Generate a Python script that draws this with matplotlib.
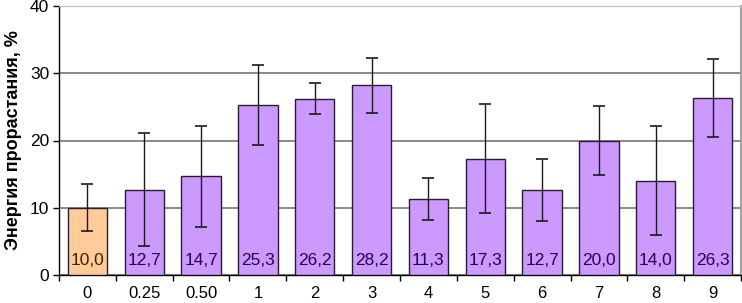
import numpy as np
import matplotlib.pyplot as plt

plt.rcParams['font.family'] = ['Liberation Sans', 'DejaVu Sans']

# data
categories = ['0', '0.25', '0.50', '1', '2', '3', '4', '5', '6', '7', '8', '9']
values = [10.0, 12.7, 14.7, 25.3, 26.2, 28.2, 11.3, 17.3, 12.7, 20.0, 14.0, 26.3]
errors = [3.5, 8.4, 7.5, 6.0, 2.3, 4.1, 3.1, 8.1, 4.6, 5.2, 8.1, 5.8]
value_labels = ['10,0', '12,7', '14,7', '25,3', '26,2', '28,2',
                '11,3', '17,3', '12,7', '20,0', '14,0', '26,3']

fig = plt.figure(figsize=(7.42, 3.03), dpi=100)
ax = fig.add_axes([59 / 742, 1 - 275 / 303, 682 / 742, 269 / 303])

x = np.arange(len(categories))
colors = ['#FFCC99'] + ['#CC99FF'] * (len(categories) - 1)
text_colors = ['#3D1F00'] + ['#26004D'] * (len(categories) - 1)

ax.bar(x, values, width=0.69, color=colors, edgecolor='#2a1a33', linewidth=1.0, zorder=3)
ax.errorbar(x, values, yerr=errors, fmt='none', ecolor='#1a1a1a',
            elinewidth=1.0, capsize=4, capthick=1.2, zorder=4)

for xi, lab, tc in zip(x, value_labels, text_colors):
    ax.text(xi, 2.2, lab, ha='center', va='center', fontsize=12.5, color=tc, zorder=5)

ax.set_xlim(-0.5, len(categories) - 0.5)
ax.set_ylim(0, 40)
ax.set_yticks([0, 10, 20, 30, 40])
ax.yaxis.grid(True, color='#808080', linewidth=1.3, zorder=0)
ax.set_axisbelow(True)

# ticks between categories on the x axis
ax.set_xticks(x)
ax.set_xticklabels(categories, fontsize=12)
ax.tick_params(axis='x', length=0, pad=8)
ax.set_xticks(np.arange(-0.5, len(categories)), minor=True)
ax.tick_params(axis='x', which='minor', length=4, width=1, direction='out')
ax.tick_params(axis='y', labelsize=12.5, length=4, width=1, pad=3)

ax.spines['left'].set_color('#000000')
ax.spines['bottom'].set_color('#000000')
ax.spines['left'].set_linewidth(1.0)
ax.spines['bottom'].set_linewidth(1.0)
ax.spines['top'].set_color('#C0C0C0')
ax.spines['right'].set_color('#A0A0A0')
ax.spines['right'].set_linewidth(1.5)

ax.set_ylabel('Энергия прорастания, %', fontsize=13, fontweight='bold', labelpad=6)

fig.savefig('out.png', dpi=100)
